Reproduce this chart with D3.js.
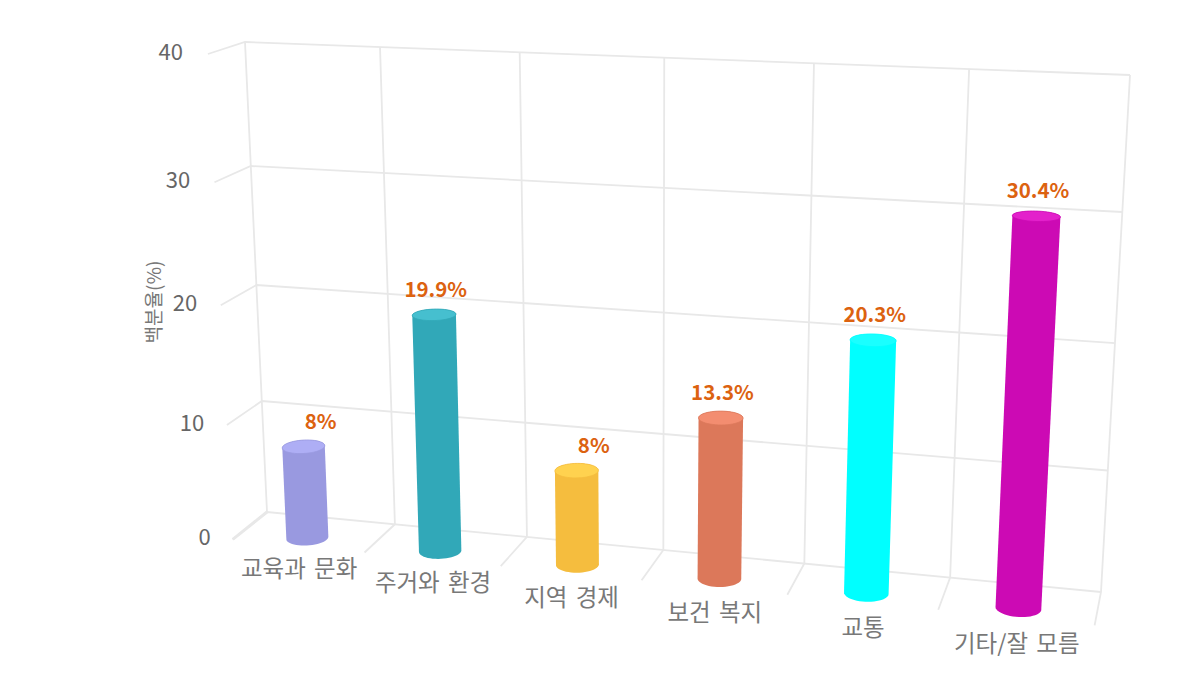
<!DOCTYPE html>
<html>
<head>
<meta charset="utf-8">
<script src="https://cdn.jsdelivr.net/npm/d3@7"></script>
<style>
  html, body { margin: 0; padding: 0; background: #fff; }
  svg { display: block; }
  text { font-family: "Noto Sans CJK KR", "Noto Sans", sans-serif; }
  .grid { stroke: #e8e8e8; stroke-width: 1.8; fill: none; }
  .y-label { font-size: 22px; fill: #666; text-anchor: end; }
  .x-label { font-size: 23.5px; fill: #787878; text-anchor: middle; word-spacing: 3px; }
  .y-title { font-size: 19px; fill: #787878; text-anchor: middle; }
  .value-label { font-size: 20.5px; font-weight: 700; fill: #dc6210; text-anchor: end; }
</style>
</head>
<body>
<div id="chart"></div>
<script>
const categories = ['교육과 문화', '주거와 환경', '지역 경제', '보건 복지', '교통', '기타/잘 모름'];
const values = [8, 19.9, 8, 13.3, 20.3, 30.4];
const valueLabels = ['8%', '19.9%', '8%', '13.3%', '20.3%', '30.4%'];
const yTicks = [0, 10, 20, 30, 40];
const bodyColors = ['#9999e0', '#31a8b8', '#f5bd3e', '#dc785a', '#00ffff', '#cc0ab4'];
const capColors = ['#aeaef5', '#46bfcf', '#ffd24f', '#f38d70', '#1affff', '#e321cb'];

const width = 1200;
const height = 700;

// Camera: back wall corners on screen plus the vanishing point of the depth axis
const wall = [[267, 512], [1101, 592], [1130, 75], [245, 42]];
const vanish = [1270, -290];
const depthScale = 0.033;

// Unit square -> wall quad
function makeHomography([p0, p1, p2, p3]) {
  const dx1 = p1[0] - p2[0], dx2 = p3[0] - p2[0], sx = p0[0] - p1[0] + p2[0] - p3[0];
  const dy1 = p1[1] - p2[1], dy2 = p3[1] - p2[1], sy = p0[1] - p1[1] + p2[1] - p3[1];
  const den = dx1 * dy2 - dx2 * dy1;
  const g = (sx * dy2 - dx2 * sy) / den;
  const h = (dx1 * sy - sx * dy1) / den;
  return {
    a: p1[0] - p0[0] + g * p1[0], b: p3[0] - p0[0] + h * p3[0], c: p0[0],
    d: p1[1] - p0[1] + g * p1[1], e: p3[1] - p0[1] + h * p3[1], f: p0[1],
    g, h
  };
}
const H = makeHomography(wall);

// u, v in 0..1 on the back wall, depth 0 at the wall and 1 at the front of the floor
function project(u, v, depth) {
  const k = depthScale * depth;
  const w = H.g * u + H.h * v + 1 - k;
  return [
    (H.a * u + H.b * v + H.c - k * vanish[0]) / w,
    (H.d * u + H.e * v + H.f - k * vanish[1]) / w
  ];
}

const x = d3.scaleBand().domain(categories).range([0, 1]);
// Slight correction so the gridlines land where the reference has them
const y = d3.scaleLinear().domain(yTicks).range([0, 0.2464, 0.497, 0.7469, 1]);

const svg = d3.select('#chart').append('svg')
  .attr('width', width)
  .attr('height', height);

const line = d3.line();
const ring = d3.line().curve(d3.curveLinearClosed);

// ─── Grid ───
const grid = svg.append('g');
const edges = categories.map(c => x(c)).concat(1);

yTicks.forEach(t => {
  grid.append('path').attr('class', 'grid')
    .attr('d', line([project(0, y(t), 1), project(0, y(t), 0), project(1, y(t), 0)]));
});
edges.forEach(u => {
  grid.append('path').attr('class', 'grid')
    .attr('d', line([project(u, 0, 1), project(u, 0, 0), project(u, 1, 0)]));
});
// Zero tick and first category tick overlap, they read heavier in the reference
grid.append('path').attr('class', 'grid')
  .style('stroke-width', 3)
  .attr('d', line([project(0, 0, 1), project(0, 0, 0)]));

// ─── Axis labels ───
yTicks.forEach(t => {
  const p = project(0, y(t), 1);
  svg.append('text').attr('class', 'y-label')
    .attr('x', p[0] - 22 - 3 * y(t))
    .attr('y', p[1] + 6)
    .text(t);
});

categories.forEach(c => {
  const u = x(c) + x.bandwidth() / 2;
  const p = project(u, 0, 1);
  svg.append('text').attr('class', 'x-label')
    .attr('x', p[0] + 1)
    .attr('y', p[1] + 31 + 4 * u)
    .text(c);
});

svg.append('text').attr('class', 'y-title')
  .attr('transform', 'translate(161,302) rotate(-90)')
  .text('백분율(%)');

// ─── Cylinders ───
const radiusU = 0.0245;
const radiusD = 0.26;
const depthPos = 0.72;
const angles = d3.range(48).map(i => i / 48 * 2 * Math.PI);

function circleAt(cu, v) {
  return angles.map(a => project(cu + radiusU * Math.cos(a), v, depthPos + radiusD * Math.sin(a)));
}

categories.forEach((c, i) => {
  const cu = x(c) + x.bandwidth() / 2;
  const top = circleAt(cu, y(values[i]));
  const base = circleAt(cu, 0);
  const g = svg.append('g').attr('class', 'cylinder');

  g.append('path')
    .attr('d', ring(d3.polygonHull(top.concat(base))))
    .attr('fill', bodyColors[i]);
  g.append('path')
    .attr('d', ring(top))
    .attr('fill', capColors[i])
    .attr('stroke', bodyColors[i])
    .attr('stroke-width', 0.8);

  const center = project(cu, y(values[i]), depthPos);
  svg.append('text').attr('class', 'value-label')
    .attr('x', center[0] + 33)
    .attr('y', center[1] - 18)
    .text(valueLabels[i]);
});
</script>
</body>
</html>
